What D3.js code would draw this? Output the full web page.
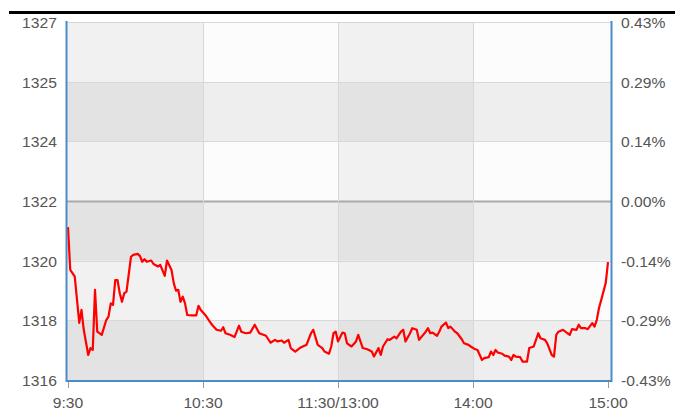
<!DOCTYPE html>
<html>
<head>
<meta charset="utf-8">
<script src="https://cdn.jsdelivr.net/npm/d3@7"></script>
<style>
  body { margin: 0; background: #fff; }
  svg { display: block; font-family: "Liberation Sans", Arial, sans-serif; }
</style>
</head>
<body>
<div id="chart"></div>
<script>
const prevClose = 1322
const pctRange = 0.43

// trading minutes since 9:30 (lunch break removed)
const minutes = [
  0, 1, 2, 3, 5, 6, 7, 9, 10, 11,
  12, 13, 15, 17, 18, 19, 20, 21, 22, 23,
  24, 25, 26, 28, 29, 31, 32, 33, 34, 35,
  37, 38, 40, 41, 43, 44, 46, 47, 48, 49,
  50, 51, 52, 53, 55, 57, 58, 59, 61, 63,
  64, 66, 68, 69, 70, 72, 74, 76, 77, 79,
  81, 83, 85, 88, 89, 90, 92, 93, 95, 96,
  98, 99, 101, 103, 105, 106, 108, 109, 111, 113,
  114, 116, 117, 118, 119, 120, 122, 123, 124, 126,
  128, 129, 131, 133, 135, 136, 138, 139, 140, 142,
  143, 145, 146, 148, 149, 150, 152, 153, 155, 156,
  159, 160, 161, 162, 164, 165, 166, 168, 169, 170,
  172, 173, 175, 176, 178, 179, 181, 182, 184, 185,
  187, 188, 189, 190, 191, 193, 194, 196, 197, 198,
  199, 201, 202, 204, 205, 207, 209, 210, 212, 213,
  215, 216, 217, 218, 220, 222, 223, 224, 226, 227,
  228, 230, 231, 233, 234, 235, 236, 237, 239, 240
]

const prices = [
  1321.17, 1319.81, 1319.71, 1319.60, 1318.13, 1318.54, 1317.91, 1317.11, 1317.33, 1317.27,
  1319.18, 1317.85, 1317.75, 1318.22, 1318.33, 1318.75, 1318.70, 1319.49, 1319.49, 1319.07,
  1318.80, 1319.07, 1319.12, 1320.23, 1320.29, 1320.32, 1320.25, 1320.07, 1320.15, 1320.07,
  1320.11, 1320.00, 1319.92, 1319.97, 1319.62, 1320.11, 1319.81, 1319.39, 1319.15, 1319.18,
  1318.80, 1318.96, 1318.75, 1318.38, 1318.37, 1318.37, 1318.67, 1318.54, 1318.38, 1318.17,
  1318.07, 1317.91, 1317.88, 1317.99, 1317.80, 1317.75, 1317.68, 1318.04, 1317.85, 1317.80,
  1317.82, 1318.07, 1317.80, 1317.72, 1317.61, 1317.50, 1317.59, 1317.54, 1317.57, 1317.50,
  1317.59, 1317.33, 1317.22, 1317.33, 1317.40, 1317.43, 1317.80, 1317.91, 1317.43, 1317.33,
  1317.22, 1317.15, 1317.38, 1317.80, 1317.85, 1317.54, 1317.82, 1317.80, 1317.48, 1317.38,
  1317.54, 1317.75, 1317.33, 1317.29, 1317.22, 1317.06, 1317.33, 1317.11, 1317.38, 1317.61,
  1317.59, 1317.69, 1317.64, 1317.85, 1317.91, 1317.54, 1317.80, 1317.96, 1317.91, 1317.59,
  1317.85, 1317.96, 1317.80, 1317.82, 1317.72, 1317.85, 1318.01, 1318.14, 1317.96, 1318.01,
  1317.85, 1317.80, 1317.61, 1317.48, 1317.43, 1317.38, 1317.29, 1317.27, 1316.95, 1317.01,
  1317.04, 1317.22, 1317.11, 1317.27, 1317.19, 1317.15, 1317.09, 1317.06, 1316.95, 1317.11,
  1317.06, 1317.04, 1316.90, 1316.90, 1317.33, 1317.38, 1317.80, 1317.64, 1317.59, 1317.48,
  1317.11, 1317.06, 1317.75, 1317.85, 1317.91, 1317.80, 1317.75, 1317.93, 1317.91, 1318.07,
  1317.96, 1317.96, 1317.93, 1318.12, 1318.01, 1318.22, 1318.60, 1318.86, 1319.40, 1320.06
]

const timeTicks = [0, 60, 120, 180, 240]
const timeLabels = ["9:30", "10:30", "11:30/13:00", "14:00", "15:00"]
const priceLabels = ["1316", "1318", "1320", "1322", "1324", "1325", "1327"]
const pctLabels = ["-0.43%", "-0.29%", "-0.14%", "0.00%", "0.14%", "0.29%", "0.43%"]

const width = 675, height = 410
const plotL = 67, plotR = 611, plotT = 22, plotB = 380
const textColor = "#555"
const stretch = 1.12   // labels in the original are a little wider than plain Arial

const svg = d3.select("#chart").append("svg")
  .attr("width", width)
  .attr("height", height)

const x = d3.scaleLinear().domain([0, 240]).range([68, 608])
const y = d3.scaleLinear()
  .domain([prevClose * (1 - pctRange / 100), prevClose * (1 + pctRange / 100)])
  .range([plotB, plotT])

const yTicks = d3.range(7).map(i => prevClose * (1 + (-pctRange + i * pctRange / 3) / 100))

// top rule
svg.append("rect").attr("x", 9).attr("y", 11).attr("width", width - 9).attr("height", 3).attr("fill", "#000")

// row bands
const bg = svg.append("g")
for (let i = 0; i < 6; i++) {
  const y0 = y(yTicks[i + 1]), y1 = y(yTicks[i])
  bg.append("rect")
    .attr("x", plotL).attr("y", y0)
    .attr("width", plotR - plotL).attr("height", y1 - y0)
    .attr("fill", i % 2 === 0 ? "#eeeeee" : "#fcfcfc")
}
// column bands (1st and 3rd darker)
const colEdges = [plotL, x(60), x(120), x(180), plotR]
for (let j = 0; j < 4; j += 2) {
  bg.append("rect")
    .attr("x", colEdges[j]).attr("y", plotT)
    .attr("width", colEdges[j + 1] - colEdges[j]).attr("height", plotB - plotT)
    .attr("fill", "#000").attr("fill-opacity", 0.045)
}

// grid
svg.append("g").selectAll("line")
  .data(yTicks)
  .enter().append("line")
  .attr("x1", plotL).attr("x2", plotR)
  .attr("y1", d => Math.round(y(d)) + 0.5).attr("y2", d => Math.round(y(d)) + 0.5)
  .attr("stroke", (d, i) => i === 3 ? "#aaaaaa" : "#d8d8d8")
  .attr("stroke-width", (d, i) => i === 3 ? 2 : 1)

svg.append("g").selectAll("line")
  .data(timeTicks.slice(1, 4))
  .enter().append("line")
  .attr("x1", d => Math.round(x(d)) + 0.5).attr("x2", d => Math.round(x(d)) + 0.5)
  .attr("y1", plotT).attr("y2", plotB)
  .attr("stroke", "#d8d8d8")

// price line
const line = d3.line()
  .x(d => x(d[0]))
  .y(d => y(d[1]))

svg.append("path")
  .datum(d3.zip(minutes, prices))
  .attr("fill", "none")
  .attr("stroke", "#ff0000")
  .attr("stroke-width", 2.2)
  .attr("stroke-linejoin", "round")
  .attr("d", line)

// axes frame
const axisColor = "#4a8cc8"
svg.append("line").attr("x1", 66.5).attr("x2", 66.5).attr("y1", plotT - 1).attr("y2", plotB + 2)
  .attr("stroke", axisColor).attr("stroke-width", 2)
svg.append("line").attr("x1", 611.5).attr("x2", 611.5).attr("y1", plotT - 1).attr("y2", plotB + 2)
  .attr("stroke", axisColor).attr("stroke-width", 2)
svg.append("line").attr("x1", 66).attr("x2", 612).attr("y1", 381).attr("y2", 381)
  .attr("stroke", axisColor).attr("stroke-width", 2)

// bottom ticks and labels
const xAxis = svg.append("g")
xAxis.selectAll("line")
  .data(timeTicks)
  .enter().append("line")
  .attr("x1", d => Math.round(x(d)) + 0.5).attr("x2", d => Math.round(x(d)) + 0.5)
  .attr("y1", 382).attr("y2", 388)
  .attr("stroke", "#999")
xAxis.selectAll("text")
  .data(timeTicks)
  .enter().append("text")
  .attr("transform", d => `translate(${x(d)},408) scale(${stretch},1)`)
  .attr("text-anchor", "middle")
  .attr("font-size", 14)
  .attr("fill", textColor)
  .text((d, i) => timeLabels[i])

// left labels
svg.append("g").selectAll("text")
  .data(yTicks)
  .enter().append("text")
  .attr("transform", d => `translate(57,${y(d)}) scale(${stretch},1)`)
  .attr("dy", "0.42em")
  .attr("text-anchor", "end")
  .attr("font-size", 14)
  .attr("fill", textColor)
  .text((d, i) => priceLabels[i])

// right labels
svg.append("g").selectAll("text")
  .data(yTicks)
  .enter().append("text")
  .attr("transform", d => `translate(621,${y(d)}) scale(${stretch},1)`)
  .attr("dy", "0.42em")
  .attr("text-anchor", "start")
  .attr("font-size", 14)
  .attr("fill", textColor)
  .text((d, i) => pctLabels[i])
</script>
</body>
</html>
